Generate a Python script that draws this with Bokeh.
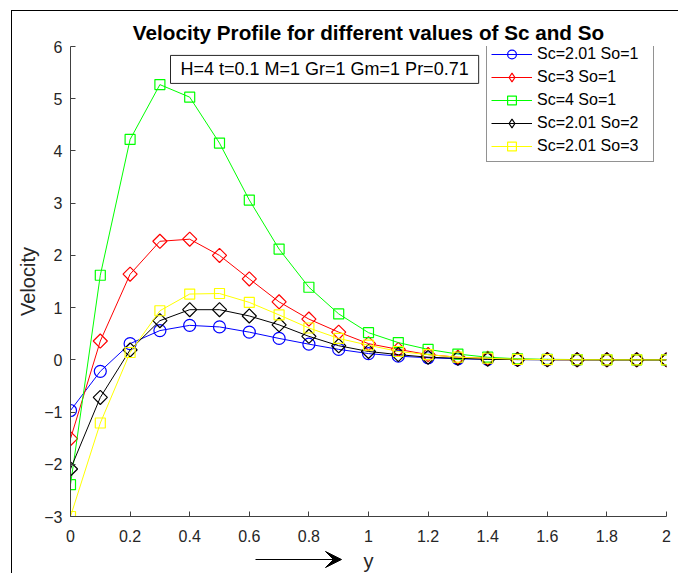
from bokeh.plotting import figure
from bokeh.models import (Range1d, FixedTicker, Legend, LegendItem, Label,
                          Arrow, VeeHead)
from bokeh.embed import file_html
from bokeh.resources import INLINE

# ---- data ----
y_pos = [0.0, 0.1, 0.2, 0.3, 0.4, 0.5, 0.6, 0.7, 0.8, 0.9, 1.0,
         1.1, 1.2, 1.3, 1.4, 1.5, 1.6, 1.7, 1.8, 1.9, 2.0]
sc201_so1 = [-0.97, -0.22, 0.31, 0.56, 0.66, 0.63, 0.53, 0.41, 0.30, 0.20, 0.12,
             0.07, 0.04, 0.02, 0.01, 0.005, 0.002, 0.001, 0.0, 0.0, 0.0]
sc3_so1 = [-1.51, 0.36, 1.64, 2.27, 2.31, 2.00, 1.55, 1.11, 0.78, 0.53, 0.31,
           0.20, 0.10, 0.05, 0.03, 0.01, 0.005, 0.002, 0.001, 0.0, 0.0]
sc4_so1 = [-2.39, 1.62, 4.22, 5.27, 5.03, 4.15, 3.06, 2.12, 1.39, 0.88, 0.52,
           0.33, 0.20, 0.11, 0.05, 0.02, 0.01, 0.005, 0.002, 0.001, 0.0]
sc201_so2 = [-2.09, -0.72, 0.19, 0.75, 0.96, 0.96, 0.84, 0.67, 0.45, 0.27, 0.16,
             0.10, 0.05, 0.03, 0.01, 0.005, 0.002, 0.001, 0.0, 0.0, 0.0]
sc201_so3 = [-3.0, -1.21, 0.14, 0.94, 1.26, 1.27, 1.10, 0.86, 0.61, 0.41, 0.28,
             0.16, 0.10, 0.05, 0.03, 0.01, 0.005, 0.002, 0.001, 0.0, 0.0]

series_labels = ["Sc=2.01 So=1", "Sc=3 So=1", "Sc=4 So=1", "Sc=2.01 So=2", "Sc=2.01 So=3"]
series_colors = ["#0000FF", "#FF0000", "#00FF00", "#000000", "#FFFF00"]
# MATLAB-style diamonds are squares turned by 45 degrees
series_markers = ["circle", "square", "square", "square", "square"]
series_angles = [0.0, 0.785398, 0.0, 0.785398, 0.0]
series_sizes = [12, 10, 10, 10, 10]
legend_markers = ["circle", "diamond", "square", "diamond", "square"]
legend_sizes = [12, 17, 10, 17, 10]

x_ticks = [0, 0.2, 0.4, 0.6, 0.8, 1.0, 1.2, 1.4, 1.6, 1.8, 2.0]
x_tick_labels = ["0", "0.2", "0.4", "0.6", "0.8", "1", "1.2", "1.4", "1.6", "1.8", "2"]
y_ticks = [-3, -2, -1, 0, 1, 2, 3, 4, 5, 6]

title_text = "Velocity Profile for different values of Sc and So"
param_text = "H=4 t=0.1 M=1 Gr=1 Gm=1 Pr=0.71"

FONT = "Liberation Sans"
TXT = "#262626"
NAN = float("nan")

# canvas is placed at (12, 11) inside the window, after a 1px frame line
p = figure(width=667, height=563, output_backend="svg", toolbar_location=None,
           x_range=Range1d(0, 2), y_range=Range1d(-3, 6),
           min_border_left=58, min_border_right=13, min_border_top=35,
           min_border_bottom=57)
p.margin = (10, 0, 0, 11)
p.styles = {"border-top": "1px solid #000000", "border-left": "1px solid #000000"}
p.outline_line_color = None
p.xgrid.visible = False
p.ygrid.visible = False
p.background_fill_color = "white"
p.border_fill_color = "white"

p.title.text = title_text
p.title.text_font = FONT
p.title.text_font_size = "20.7px"
p.title.text_font_style = "bold"
p.title.text_color = "#000000"
p.title.align = "center"
p.title.standoff = 6

for ax in (p.xaxis[0], p.yaxis[0]):
    ax.axis_line_color = "#404040"
    ax.major_tick_line_color = "#404040"
    ax.major_tick_in = 5
    ax.major_tick_out = 0
    ax.minor_tick_line_color = None
    ax.major_label_text_font = FONT
    ax.major_label_text_font_size = "16px"
    ax.major_label_text_color = TXT
    ax.axis_label_text_font = FONT
    ax.axis_label_text_font_size = "20px"
    ax.axis_label_text_font_style = "normal"
    ax.axis_label_text_color = TXT

p.xaxis.ticker = FixedTicker(ticks=x_ticks)
p.xaxis.major_label_overrides = {t: s for t, s in zip(x_ticks, x_tick_labels)}
p.yaxis.ticker = FixedTicker(ticks=y_ticks)
p.xaxis.axis_label = "y"
p.yaxis.axis_label = "Velocity"
p.xaxis.major_label_standoff = 13
p.xaxis.axis_label_standoff = 5
p.yaxis.major_label_standoff = 8
p.yaxis.axis_label_standoff = 2

items = []
for vals, lab, col, mk, ang, sz, lmk, lsz in zip(
        [sc201_so1, sc3_so1, sc4_so1, sc201_so2, sc201_so3],
        series_labels, series_colors, series_markers, series_angles,
        series_sizes, legend_markers, legend_sizes):
    lr = p.line(y_pos, vals, line_color=col, line_width=1)
    p.scatter(y_pos, vals, marker=mk, size=sz, angle=ang, line_color=col,
              fill_color=None, line_width=1.2)
    # swatch-only marker for the legend (a single NaN point, never drawn in the plot)
    proxy = p.scatter(x=[NAN], y=[NAN], marker=lmk, size=lsz, line_color=col,
                      fill_color=None, line_width=1.2)
    items.append(LegendItem(label=lab, renderers=[lr, proxy]))

legend = Legend(items=items, location=(416, 354), padding=4, spacing=1,
                glyph_width=41, glyph_height=22, label_height=22,
                label_standoff=5, label_width=112,
                label_text_font=FONT, label_text_font_size="16px",
                label_text_color="#000000",
                border_line_color="#262626", border_line_width=1,
                background_fill_color="white", background_fill_alpha=1)
p.add_layout(legend)

ann = Label(x=0.3356, y=5.293, x_units="data", y_units="data", text=param_text,
            text_font=FONT, text_font_size="18px", text_color="#000000",
            text_baseline="bottom", text_align="left",
            padding=(10, 4),
            border_line_color="#262626", border_line_width=1,
            background_fill_color="white", background_fill_alpha=1)
p.add_layout(ann)

# small transparent overlay figure carrying the arrow next to the x-axis label
q = figure(width=100, height=20, output_backend="svg", toolbar_location=None,
           x_range=Range1d(0, 100), y_range=Range1d(0, 20),
           x_axis_location=None, y_axis_location=None, min_border=0)
q.outline_line_color = None
q.grid.visible = False
q.background_fill_alpha = 0
q.border_fill_alpha = 0
q.styles = {"position": "absolute", "left": "250px", "top": "549px"}
q.add_layout(Arrow(x_start=5, y_start=10, x_end=91, y_end=10,
                   line_color="black", line_width=1,
                   end=VeeHead(size=16, fill_color="black", line_color="black",
                               line_width=1)))

open("out.html", "w").write(file_html([p, q], INLINE))
